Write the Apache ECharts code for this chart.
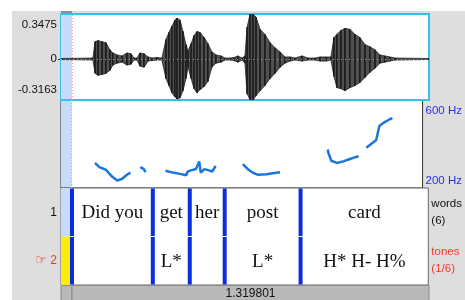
<!DOCTYPE html>
<html>
<head>
	<meta charset="UTF-8">
	<title></title>
	<script src="https://cdn.jsdelivr.net/npm/echarts@6/dist/echarts.min.js"></script>
	<style>
		html, body { margin: 0; padding: 0; background: #fff; }
		#main { width: 465px; height: 300px; }
	</style>
</head>
<body>
<div id="main"></div>
<script>
	// time window (s), cursor position, duration shown in the bottom bar
	var T_END = 1.3605;
	var cursorT = 0.0407;
	var tailDuration = '1.319801';

	// waveform envelope: time (s), upper and lower amplitude
	var waveT = [0, 0.118, 0.126, 0.137, 0.152, 0.166, 0.181, 0.192, 0.207, 0.226, 0.244, 0.259, 0.270, 0.281,
		0.292, 0.307, 0.322, 0.336, 0.355, 0.373, 0.388, 0.399, 0.410, 0.421, 0.429, 0.440, 0.451, 0.462, 0.470,
		0.481, 0.492, 0.503, 0.514, 0.529, 0.543, 0.558, 0.573, 0.592, 0.606, 0.625, 0.640, 0.654, 0.669, 0.680,
		0.688, 0.699, 0.710, 0.721, 0.736, 0.754, 0.773, 0.791, 0.810, 0.828, 0.847, 0.865, 0.891, 0.913, 0.939,
		0.958, 0.980, 0.998, 1.009, 1.020, 1.035, 1.050, 1.068, 1.087, 1.105, 1.124, 1.142, 1.161, 1.179, 1.198,
		1.216, 1.235, 1.3605];
	var waveHi = [0.004, 0.008, 0.134, 0.142, 0.134, 0.126, 0.071, 0.047, 0.032, 0.024, 0.047, 0.040, 0.008, 0.008,
		0.047, 0.040, 0.016, 0.008, 0.012, 0.008, 0.150, 0.205, 0.253, 0.300, 0.316, 0.300, 0.213, 0.111, 0.063,
		0.119, 0.182, 0.213, 0.205, 0.166, 0.119, 0.055, 0.032, 0.024, 0.008, 0.008, 0.012, 0.024, 0.008, 0.024,
		0.245, 0.3475, 0.3475, 0.324, 0.229, 0.190, 0.126, 0.087, 0.055, 0.016, 0.016, 0.008, 0.024, 0.008, 0.008,
		0.016, 0.016, 0.016, 0.166, 0.190, 0.221, 0.237, 0.229, 0.190, 0.166, 0.111, 0.095, 0.071, 0.032, 0.024,
		0.016, 0.008, 0.004];
	var waveLo = [-0.004, -0.008, -0.111, -0.126, -0.119, -0.111, -0.087, -0.047, -0.032, -0.024, -0.047, -0.040, -0.008, -0.008,
		-0.055, -0.063, -0.016, -0.012, -0.008, -0.008, -0.150, -0.205, -0.261, -0.292, -0.308, -0.300, -0.245, -0.150, -0.063,
		-0.150, -0.229, -0.261, -0.237, -0.213, -0.174, -0.063, -0.032, -0.024, -0.008, -0.008, -0.012, -0.024, -0.008, -0.032,
		-0.269, -0.3163, -0.3163, -0.284, -0.245, -0.205, -0.150, -0.111, -0.063, -0.032, -0.016, -0.008, -0.016, -0.008, -0.008,
		-0.016, -0.016, -0.008, -0.134, -0.221, -0.229, -0.245, -0.221, -0.205, -0.182, -0.142, -0.103, -0.071, -0.032, -0.024,
		-0.016, -0.008, -0.004];
	var waveTicks = [-0.3163, 0, 0.3475];

	// pitch track (Hz), null = unvoiced gap
	var pitchT = [0.128, 0.144, 0.169, 0.192, 0.211, 0.229, 0.248, 0.261, null,
		0.298, 0.311, 0.318, null,
		0.393, 0.421, 0.452, 0.471, 0.477, 0.489, 0.508, 0.520, 0.526, 0.539, 0.557, 0.569, 0.582, null,
		0.684, 0.705, 0.724, 0.742, 0.773, 0.803, 0.824, null,
		1.004, 1.006, 1.017, 1.038, 1.062, 1.087, 1.105, 1.120, null,
		1.149, 1.173, 1.186, 1.192, 1.198, 1.206, 1.216, 1.223, 1.231, 1.241, 1.247];
	var pitchHz = [314, 295, 283, 252, 234, 241, 260, 270, null,
		295, 287, 272, null,
		278, 270, 263, 258, 275, 280, 286, 321, 270, 286, 280, 275, 301, null,
		309, 283, 268, 260, 263, 268, 272, null,
		375, 360, 324, 314, 321, 332, 339, 344, null,
		383, 406, 418, 413, 482, 490, 498, 502, 508, 516, 513];
	var pitchTicks = [200, 600];

	// tiers
	var tierNames = ['words', 'tones'];
	var tierBounds = [0, 0.0407, 0.3401, 0.4769, 0.6063, 0.8873, 1.3605];
	var wordLabels = ['', 'Did you', 'get', 'her', 'post', 'card'];
	var toneLabels = ['', '', 'L*', '', 'L*', 'H* H- H%'];

	var sans = 'Liberation Sans';
	var serif = 'Liberation Serif';
	var selBlue = '#c6dcfa';

	var myChart = echarts.init(document.getElementById('main'));

	// waveform as quads between neighbouring samples
	var waveData = [];
	for (var i = 0; i < waveT.length - 1; i++) {
		waveData.push([waveT[i], waveHi[i], waveLo[i], waveT[i + 1], waveHi[i + 1], waveLo[i + 1]]);
	}

	var pitchData = [];
	for (var i = 0; i < pitchT.length; i++) {
		pitchData.push(pitchT[i] === null ? '-' : [pitchT[i], pitchHz[i]]);
	}

	var tierItems = [];
	[wordLabels, toneLabels].forEach(function (labels, tier) {
		for (var k = 0; k < labels.length; k++) {
			tierItems.push({ s: tierBounds[k], e: tierBounds[k + 1], tier: tier, text: labels[k] });
		}
	});
	var tierCounts = [wordLabels.length, toneLabels.length];

	var xAx = function (idx) {
		return { type: 'value', gridIndex: idx, min: 0, max: T_END, show: false };
	};

	// full-height selection strip in a value grid
	var stripSeries = function (idx) {
		return {
			type: 'custom', xAxisIndex: idx, yAxisIndex: idx, silent: true, z: 3,
			data: [[0, cursorT]],
			renderItem: function (params, api) {
				var cs = params.coordSys;
				var p0 = api.coord([api.value(0), 0]);
				var p1 = api.coord([api.value(1), 0]);
				return { type: 'rect', shape: { x: p0[0], y: cs.y + 1, width: p1[0] - p0[0], height: cs.height - 2 }, style: { fill: selBlue } };
			}
		};
	};
	var cursorLine = {
		silent: true, symbol: 'none', label: { show: false },
		data: [{ xAxis: cursorT, lineStyle: { color: '#f29a9a', type: [1, 2], width: 1 } }]
	};

	var option = {
		backgroundColor: '#ffffff',
		animation: false,
		textStyle: { fontFamily: sans },
		grid: [
			{ left: 61, top: 14, width: 368, height: 86, show: true, backgroundColor: '#fff', borderColor: '#34c1ea', borderWidth: 2, z: 2 },
			{ left: 61, top: 100, width: 368, height: 88, show: true, backgroundColor: '#fff', borderColor: '#333', borderWidth: 1, z: 1 },
			{ left: 61, top: 188, width: 368, height: 97, show: true, backgroundColor: '#fff', borderColor: '#666', borderWidth: 1, z: 1 }
		],
		xAxis: [xAx(0), xAx(1), xAx(2)],
		yAxis: [
			{
				type: 'value', gridIndex: 0, min: -0.3163, max: 0.3475,
				axisLine: { show: true, lineStyle: { color: '#222', width: 1 } },
				axisTick: { show: true, customValues: [0], length: 3, lineStyle: { color: '#222' } },
				splitLine: { show: false },
				axisLabel: {
					customValues: waveTicks, margin: 4, color: '#111', fontSize: 11.5, fontFamily: sans,
					verticalAlignMinLabel: 'bottom', verticalAlignMaxLabel: 'top',
					formatter: function (v) {
						if (v === 0) return '{m|0}';
						return (v > 0 ? '{t|' : '{b|') + v.toFixed(4) + '}';
					},
					rich: {
						t: { fontSize: 11.5, fontFamily: sans, color: '#111', lineHeight: 21 },
						m: { fontSize: 11.5, fontFamily: sans, color: '#111' },
						b: { fontSize: 11.5, fontFamily: sans, color: '#111', lineHeight: 21 }
					}
				}
			},
			{
				type: 'value', gridIndex: 1, min: 200, max: 600, position: 'right',
				axisLine: { show: false }, axisTick: { show: false }, splitLine: { show: false },
				axisLabel: {
					customValues: pitchTicks, margin: 3, color: '#2b2fe4', fontSize: 11.5, fontFamily: sans,
					verticalAlignMinLabel: 'bottom', verticalAlignMaxLabel: 'top',
					formatter: function (v) { return (v > 400 ? '{t|' : '{b|') + v + ' Hz}'; },
					rich: {
						t: { fontSize: 11.5, fontFamily: sans, color: '#2b2fe4', lineHeight: 21 },
						b: { fontSize: 11.5, fontFamily: sans, color: '#2b2fe4', lineHeight: 14 }
					}
				}
			},
			{
				type: 'category', gridIndex: 2, data: ['1', '2'], inverse: true, position: 'left',
				axisLine: { show: false }, axisTick: { show: false },
				splitLine: { show: true, lineStyle: { color: '#9c9c9c', width: 1 } },
				axisLabel: {
					margin: 4, fontSize: 12, fontFamily: sans,
					formatter: function (v, i) { return i === 0 ? '{k|1}' : '{h|\u261E} {r|2}'; },
					rich: {
						k: { color: '#111', fontSize: 12, fontFamily: sans },
						r: { color: '#f03a2e', fontSize: 12, fontFamily: sans },
						h: { color: '#f03a2e', fontSize: 13, fontFamily: 'DejaVu Sans' }
					}
				}
			},
			{
				type: 'category', gridIndex: 2, data: tierNames, inverse: true, position: 'right',
				axisLine: { show: false }, axisTick: { show: false }, splitLine: { show: false },
				axisLabel: {
					margin: 3, align: 'left',
					formatter: function (v, i) {
						var st = i === 0 ? 'k' : 'r';
						var cnt = i === 0 ? '(' + tierCounts[0] + ')' : '(1/' + tierCounts[1] + ')';
						return '{' + st + '|' + v + '}\n{' + st + '|' + cnt + '}';
					},
					rich: {
						k: { color: '#111', fontSize: 11.5, fontFamily: sans, lineHeight: 17 },
						r: { color: '#f03a2e', fontSize: 11.5, fontFamily: sans, lineHeight: 17 }
					}
				}
			}
		],
		series: [
			stripSeries(0),
			stripSeries(1),
			{
				type: 'custom', name: 'wave', xAxisIndex: 0, yAxisIndex: 0, clip: true, z: 4,
				data: waveData,
				encode: { x: [0, 3], y: [1, 2, 4, 5] },
				renderItem: function (params, api) {
					var a = api.coord([api.value(0), api.value(1)]);
					var b = api.coord([api.value(3), api.value(4)]);
					var c = api.coord([api.value(3), api.value(5)]);
					var d = api.coord([api.value(0), api.value(2)]);
					return {
						type: 'group',
						children: [
							{ type: 'polygon', shape: { points: [a, b, c, d] }, style: { fill: '#505050', stroke: '#161616', lineWidth: 0.7 } },
							{ type: 'line', shape: { x1: a[0], y1: a[1], x2: d[0], y2: d[1] }, style: { stroke: '#111', lineWidth: 1 } }
						]
					};
				},
				markLine: {
					silent: true, symbol: 'none', label: { show: false },
					data: [
						{ yAxis: 0, lineStyle: { color: '#5cb6d8', type: [1, 3], width: 1 } },
						{ xAxis: cursorT, lineStyle: { color: '#f29a9a', type: [1, 2], width: 1 } }
					]
				}
			},
			{
				type: 'line', name: 'pitch', xAxisIndex: 1, yAxisIndex: 1, z: 4,
				data: pitchData, showSymbol: false, connectNulls: false,
				lineStyle: { color: '#1a76dc', width: 2.5 },
				markLine: cursorLine
			},
			{
				// selection strips in the tier area
				type: 'custom', name: 'strips', xAxisIndex: 2, yAxisIndex: 2,
				data: [[0, cursorT, 0], [0, cursorT, 1]],
				renderItem: function (params, api) {
					var p0 = api.coord([api.value(0), api.value(2)]);
					var p1 = api.coord([api.value(1), api.value(2)]);
					var h = api.size([0, 1])[1];
					return {
						type: 'rect',
						shape: { x: p0[0], y: p0[1] - h / 2, width: p1[0] - p0[0], height: h },
						style: { fill: params.dataIndex === 0 ? selBlue : '#fbee0a' }
					};
				}
			},
			{
				type: 'custom', name: 'tiers', xAxisIndex: 2, yAxisIndex: 2,
				data: tierItems.map(function (d) { return [d.s, d.e, d.tier]; }),
				renderItem: function (params, api) {
					var cs = params.coordSys;
					var item = tierItems[params.dataIndex];
					var p0 = api.coord([api.value(0), api.value(2)]);
					var p1 = api.coord([api.value(1), api.value(2)]);
					var h = api.size([0, 1])[1];
					var x0 = Math.max(p0[0], cs.x), x1 = Math.min(p1[0], cs.x + cs.width);
					var kids = [];
					if (item.s > 0) {
						kids.push({ type: 'rect', shape: { x: p0[0] - 2, y: p0[1] - h / 2 + 0.5, width: 4, height: h - 1 }, style: { fill: '#0b2de2' } });
					}
					if (item.text) {
						kids.push({
							type: 'text', x: (x0 + x1) / 2, y: p0[1] + 1,
							style: { text: item.text, fill: '#111', font: '19px "' + serif + '"', align: 'center', verticalAlign: 'middle' }
						});
					}
					return { type: 'group', children: kids };
				}
			}
		]
	};

	myChart.setOption(option);

	// chrome: outer grey frame and bottom duration bar
	var xa = myChart.convertToPixel({ xAxisIndex: 0 }, 0);
	var xc = myChart.convertToPixel({ xAxisIndex: 0 }, cursorT);
	var xe = myChart.convertToPixel({ xAxisIndex: 0 }, T_END);
	myChart.setOption({
		graphic: [
			{ type: 'rect', z: -10, silent: true, shape: { x: 12, y: 11, width: 460, height: 300 }, style: { fill: '#dedede' } },
			{ type: 'rect', z: -9, silent: true, shape: { x: xa, y: 11, width: xc - xa, height: 3 }, style: { fill: '#8f8f8f' } },
			{ type: 'rect', z: 10, silent: true, shape: { x: xa, y: 285.5, width: xc - xa, height: 16 }, style: { fill: '#b9b9b9', stroke: '#8a8a8a', lineWidth: 1 } },
			{ type: 'rect', z: 10, silent: true, shape: { x: xc, y: 285.5, width: xe - xc, height: 16 }, style: { fill: '#b9b9b9', stroke: '#8a8a8a', lineWidth: 1 } },
			{ type: 'text', z: 11, silent: true, x: (xc + xe) / 2, y: 293.5, style: { text: tailDuration, fill: '#111', font: '12px "' + sans + '"', align: 'center', verticalAlign: 'middle' } }
		]
	});
</script>
</body>
</html>
